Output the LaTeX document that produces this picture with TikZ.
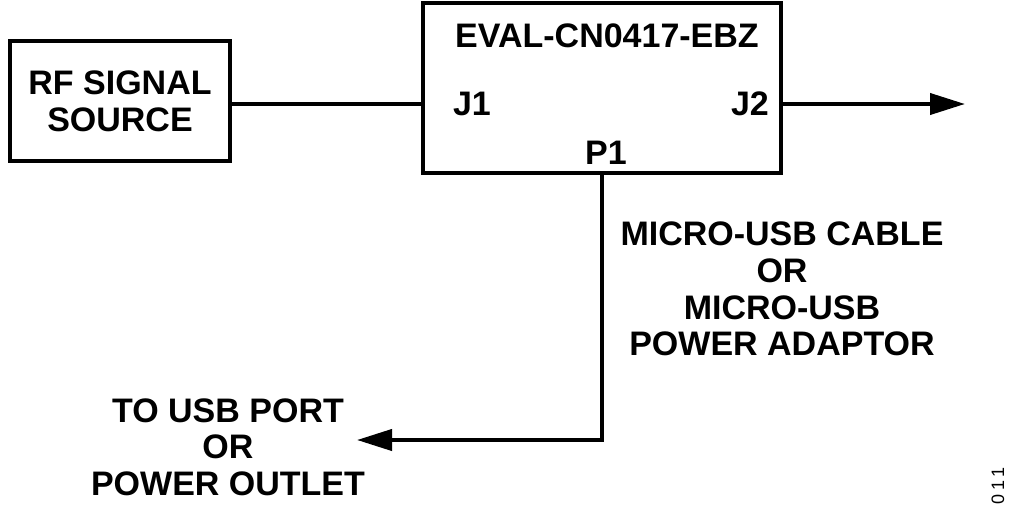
\documentclass[tikz,border=0pt]{standalone}
\usepackage{fontspec}
\setmainfont{Liberation Sans}
\newfontfamily\figfont[LetterSpace=22]{Liberation Sans}
\usetikzlibrary{arrows.meta}

\begin{document}
\begin{tikzpicture}[x=0.5pt, y=-0.5pt,
        lbl/.style={font=\fontsize{17}{18.3}\selectfont\bfseries, inner sep=0pt, align=center},
        blockbox/.style={draw, line width=2pt, inner sep=0pt, outer sep=0pt},
        wire/.style={line width=2pt},
        arr/.style={wire, -{Triangle[length=17.5pt, width=10.5pt]}}]
        \useasboundingbox (0, 0) rectangle (1024, 515);

        \node[blockbox, lbl, minimum width=110pt, minimum height=60pt] (rf) at (120, 101) {RF SIGNAL\\SOURCE};
        \node[blockbox, minimum width=179pt, minimum height=85pt] (eval) at (602, 88) {};

        \node[lbl] (title) at (607, 36) {EVAL-CN0417-EBZ};
        \node[lbl] (j1) at (472, 104) {J1};
        \node[lbl] (j2) at (750, 104) {J2};
        \node[lbl] (p1) at (606, 153) {P1};
        \node[lbl] (cable) at (782, 289) {MICRO-USB CABLE\\OR\\MICRO-USB\\POWER ADAPTOR};
        \node[lbl] (outlet) at (228, 447) {TO USB PORT\\OR\\POWER OUTLET};
        \node[font=\figfont\fontsize{9}{10}\selectfont, rotate=90, inner sep=0pt] (fig) at (998, 486) {011};

        \coordinate (out) at (965, 104);
        \coordinate (usb) at (357, 440);

        \draw[wire] (rf.east |- j1) -- (eval.west |- j1);
        \draw[arr] (eval.east |- j2) -- (out |- j2);
        \draw[arr] (eval.south) |- (usb);
    \end{tikzpicture}
\end{document}
